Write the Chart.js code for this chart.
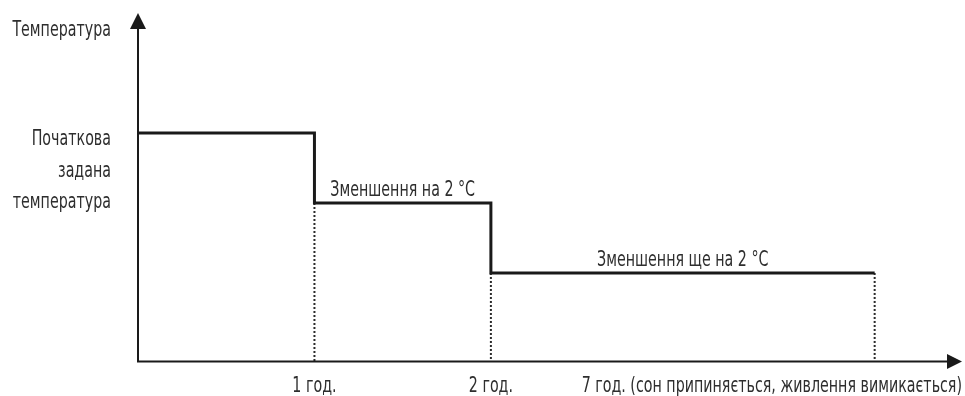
<!DOCTYPE html>
<html lang="uk">
<head>
<meta charset="utf-8">
<script src="https://cdn.jsdelivr.net/npm/chart.js@4.4.1/dist/chart.umd.min.js"></script>
<style>
    html, body { margin: 0; padding: 0; background: #fff; }
    #wrap { width: 965px; height: 396px; position: relative; }
</style>
</head>
<body>
<div id="wrap"><canvas id="grafica"></canvas></div>
<script>
"use strict";

// позиції на осі часу (умовні, вісь не в масштабі) та підписи
const timePos = [0, 1, 2, 4.175];
const timeLabels = ["", "1 год.", "2 год.", "7 год. (сон припиняється, живлення вимикається)"];

// зміна температури відносно початкової, °C
const tempValues = [0, -2, -4, -4];
const stepLabels = ["", "Зменшення на 2 °C", "Зменшення ще на 2 °C"];

const yTitle = "Температура";
const startLabel = ["Початкова", "задана", "температура"];

const X_MAX = 4.67;
const Y_MIN = -6.53;
const Y_MAX = 3.43;

const FONT = '"DejaVu Sans Condensed", "DejaVu Sans", sans-serif';
const FONT_SIZE = 22;
const SCALE_X = 0.72;
const TEXT = "#2e2e2e";

document.addEventListener("DOMContentLoaded", () => {
    const $grafica = document.querySelector("#grafica");

    const stepData = timePos.map((x, i) => ({ x, y: tempValues[i] }));

    // пунктирні вертикалі від кожної точки зміни до осі часу
    const dotted = timePos.slice(1).map((x, i) => ({
        data: [{ x, y: tempValues[i + 1] }, { x, y: Y_MIN }],
        borderColor: "#2a2a2a",
        borderWidth: 2,
        borderDash: [2, 2],
        pointRadius: 0,
        fill: false,
    }));

    function drawText(ctx, text, px, py, align) {
        ctx.save();
        ctx.translate(px, py);
        ctx.scale(SCALE_X, 1);
        ctx.textAlign = align;
        ctx.fillText(text, 0, 0);
        ctx.restore();
    }

    function textWidth(ctx, text) {
        return ctx.measureText(text).width * SCALE_X;
    }

    const decor = {
        id: "decor",
        afterDatasetsDraw(chart) {
            const { ctx, chartArea, scales } = chart;
            const { x, y } = scales;
            const x0 = x.getPixelForValue(0);
            const yBase = y.getPixelForValue(Y_MIN);
            const yTop = chartArea.top;
            const xEnd = chartArea.right;

            ctx.save();
            ctx.strokeStyle = "#1a1a1a";
            ctx.fillStyle = "#1a1a1a";
            ctx.lineWidth = 2;

            // осі
            ctx.beginPath();
            ctx.moveTo(x0, yBase);
            ctx.lineTo(x0, yTop + 10);
            ctx.moveTo(x0 - 1, yBase);
            ctx.lineTo(xEnd - 10, yBase);
            ctx.stroke();

            // стрілки
            ctx.beginPath();
            ctx.moveTo(x0, yTop);
            ctx.lineTo(x0 - 8, yTop + 16);
            ctx.lineTo(x0 + 8, yTop + 16);
            ctx.closePath();
            ctx.fill();

            ctx.beginPath();
            ctx.moveTo(xEnd, yBase);
            ctx.lineTo(xEnd - 15, yBase - 7.5);
            ctx.lineTo(xEnd - 15, yBase + 7.5);
            ctx.closePath();
            ctx.fill();

            ctx.fillStyle = TEXT;
            ctx.font = `${FONT_SIZE}px ${FONT}`;
            ctx.textBaseline = "alphabetic";

            // підписи осі Y
            drawText(ctx, yTitle, x0 - 27, yTop + 23, "right");
            const yStart = y.getPixelForValue(tempValues[0]);
            startLabel.forEach((t, i) => {
                drawText(ctx, t, x0 - 27, yStart + 12 + i * 31.5, "right");
            });

            // підписи осі часу
            const W = chart.width;
            timeLabels.forEach((t, i) => {
                if (!t) return;
                const w = textWidth(ctx, t);
                let px = x.getPixelForValue(timePos[i]);
                px = Math.min(px, W - 3 - w / 2);
                drawText(ctx, t, px, yBase + 30, "center");
            });

            // підписи сходинок
            stepLabels.forEach((t, i) => {
                if (!t) return;
                const mid = (x.getPixelForValue(timePos[i]) + x.getPixelForValue(timePos[i + 1])) / 2;
                drawText(ctx, t, mid, y.getPixelForValue(tempValues[i]) - 7, "center");
            });
            ctx.restore();
        },
    };

    new Chart($grafica, {
        type: "line",
        data: {
            datasets: [
                {
                    data: stepData,
                    stepped: true,
                    borderColor: "#1a1a1a",
                    borderWidth: 3,
                    pointRadius: 0,
                    fill: false,
                },
                ...dotted,
            ],
        },
        options: {
            responsive: true,
            maintainAspectRatio: false,
            animation: false,
            layout: {
                padding: { left: 138, top: 13, right: 3, bottom: 34.5 },
            },
            scales: {
                x: { type: "linear", min: 0, max: X_MAX, display: false },
                y: { type: "linear", min: Y_MIN, max: Y_MAX, display: false },
            },
            plugins: {
                legend: { display: false },
                tooltip: { enabled: false },
            },
        },
        plugins: [decor],
    });
});
</script>
</body>
</html>
